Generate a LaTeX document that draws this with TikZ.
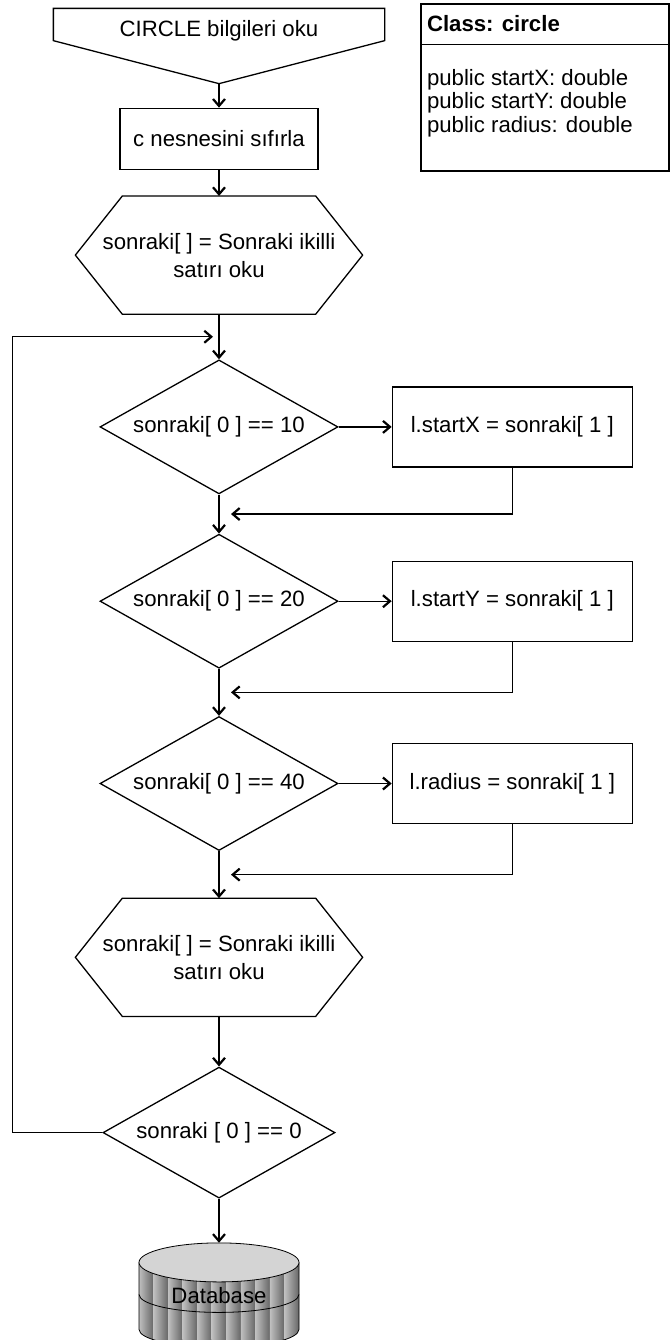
\documentclass[tikz,border=0pt]{standalone}
\usepackage{fontspec}
\setmainfont{Liberation Sans}
\usepackage{tikz}
\usetikzlibrary{shapes,arrows.meta,positioning,calc,backgrounds}

\newcommand{\drawhex}[1]{%
  \draw (#1.west) -- ([xshift=23.5pt]#1.north west) -- ([xshift=-23.5pt]#1.north east)
    -- (#1.east) -- ([xshift=-23.5pt]#1.south east) -- ([xshift=23.5pt]#1.south west) -- cycle;}

\begin{document}
\begin{tikzpicture}[x=0.5pt, y=-0.5pt, line width=0.65pt,
    >={Straight Barb[length=3.5pt,width=6pt,line width=1.1pt]},
    every node/.style={font=\fontsize{11.1pt}{14pt}\selectfont},
    procbox/.style={draw, rectangle, inner sep=2pt, align=center},
    setbox/.style={procbox, minimum width=120pt, minimum height=40pt},
    decision/.style={draw, diamond, aspect=1.78, inner sep=0pt, minimum width=119pt, minimum height=67pt},
    readbox/.style={rectangle, inner sep=0pt, align=center, minimum width=143pt, minimum height=58.5pt},
    dbnode/.style={rectangle, inner sep=0pt, minimum width=80pt, minimum height=52pt}]
    \useasboundingbox (0,0) rectangle (670,1340);

    \node[rectangle, minimum width=165pt, minimum height=15.5pt, inner sep=0pt, text height=11.5pt, text depth=0pt] (in) at (219,24.5) {CIRCLE bilgileri oku};
    \coordinate (intip) at ([yshift=-21.5pt]in.south);
    \draw (in.north west) -- (in.north east) -- (in.south east) -- (intip) -- (in.south west) -- cycle;

    \node[procbox, minimum width=99pt, minimum height=30.5pt, below=33.5pt of in] (clr) {c nesnesini sıfırla};
    \node[readbox, below=13pt of clr] (rd1) {sonraki[ ] = Sonraki ikilli\\satırı oku};
    \drawhex{rd1}

    \node[decision, below=22.5pt of rd1] (d1) {sonraki[ 0 ] == 10};
    \node[decision, below=19.5pt of d1] (d2) {sonraki[ 0 ] == 20};
    \node[decision, below=23.5pt of d2] (d3) {sonraki[ 0 ] == 40};

    \node[setbox, right=26.5pt of d1] (s1) {l.startX = sonraki[ 1 ]};
    \node[setbox, right=26.5pt of d2] (s2) {l.startY = sonraki[ 1 ]};
    \node[setbox, right=26.5pt of d3] (s3) {l.radius = sonraki[ 1 ]};

    \node[readbox, below=23.5pt of d3] (rd2) {sonraki[ ] = Sonraki ikilli\\satırı oku};
    \drawhex{rd2}

    \node[decision, minimum width=116pt, minimum height=65.5pt, below=25pt of rd2] (d4) {sonraki [ 0 ] == 0};
    \node[dbnode, below=22pt of d4] (db) {Database};

    % database drum
    \begin{scope}[on background layer, shift={(db.center)}, x=1pt, y=1pt]
        \begin{scope}
            \clip (-40,16.5) -- (-40,-17) arc[start angle=180, end angle=360, x radius=40, y radius=9] -- (40,16.5) -- cycle;
            \foreach \i in {0,...,10}
                \shade[left color=black!25, right color=black!60] (-40+\i*80/11,-30) rectangle (-40+\i*80/11+80/11,20);
        \end{scope}
        \draw (-40,16.5) -- (-40,-17) arc[start angle=180, end angle=360, x radius=40, y radius=9] -- (40,16.5);
        \draw (-40,0.5) arc[start angle=180, end angle=360, x radius=40, y radius=9];
        \draw[fill=black!17] (0,16.5) ellipse[x radius=40, y radius=9.75];
    \end{scope}

    % class box
    \node[draw, rectangle, inner sep=0pt, minimum width=124pt, minimum height=83.5pt] (cls) at (545,87.5) {};
    \draw ([yshift=-20.5pt]cls.north west) -- ([yshift=-20.5pt]cls.north east);
    \node[anchor=base west, inner sep=0pt, font=\fontsize{11.1pt}{14pt}\selectfont\bfseries] (clstitle) at ([xshift=3pt, yshift=-14pt]cls.north west) {Class: circle};
    \node[anchor=north west, inner sep=0pt, align=left, font=\fontsize{11.1pt}{11.75pt}\selectfont] (clsattr) at ([xshift=3pt, yshift=-32.5pt]cls.north west) {public startX: double\\public startY: double\\public radius: double};

    \coordinate (j0) at ($(rd1.south)!0.5!(d1.north)$);
    \coordinate (j1) at ($(d1.south)!0.5!(d2.north)$);
    \coordinate (j2) at ($(d2.south)!0.5!(d3.north)$);
    \coordinate (j3) at ($(d3.south)!0.5!(rd2.north)$);

    \draw[->] (intip) -- (clr);
    \draw[->] (clr) -- (rd1);
    \draw[->] (rd1) -- (d1);
    \draw[->] (d1) -- (s1);
    \draw[->] (d1) -- (d2);
    \draw[->] (d2) -- (s2);
    \draw[->] (d2) -- (d3);
    \draw[->] (d3) -- (s3);
    \draw[->] (d3) -- (rd2);
    \draw[->] (rd2) -- (d4);
    \draw[->] (d4) -- (db);

    \draw[->] (s1.south) |- ([xshift=6pt]j1);
    \draw[->] (s2.south) |- ([xshift=6pt]j2);
    \draw[->] (s3.south) |- ([xshift=6pt]j3);
    \draw[->] (d4.west) -- ++(-45pt,0) |- ([xshift=-3pt]j0);
\end{tikzpicture}
\end{document}
